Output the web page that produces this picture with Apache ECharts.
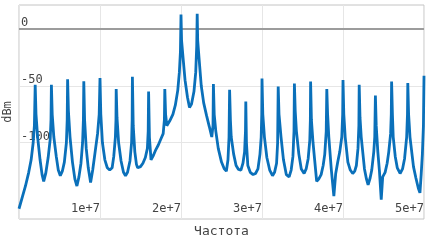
<!DOCTYPE html>
<html>
<head>
<meta charset="utf-8">
<script src="https://cdn.jsdelivr.net/npm/echarts@6/dist/echarts.min.js"></script>
<style>
  html, body { margin: 0; padding: 0; background: #fff; }
  #chart { width: 433px; height: 244px; }
</style>
</head>
<body>
<div id="chart"></div>
<script>
// spectrum: [frequency in MHz, level in dBm]
const spectrumMHz = [
  [0, -158], [0.4, -148], [0.8, -138], [1.2, -126], [1.5, -115], [1.75, -100], [1.9, -85], [2, -49.1],
  [2.1, -75], [2.3, -95], [2.6, -115], [2.85, -128], [3.05, -134], [3.3, -127], [3.6, -113], [3.85, -97], [3.95, -80], [4, -49.1],
  [4.1, -75], [4.3, -95], [4.6, -112], [4.85, -124], [5.1, -129], [5.35, -125], [5.6, -117], [5.85, -100], [5.95, -80], [6, -44.3],
  [6.1, -72], [6.3, -95], [6.6, -117], [6.9, -132], [7.15, -138], [7.4, -130], [7.65, -118], [7.85, -100], [7.95, -80], [8, -46.1],
  [8.1, -80], [8.3, -105], [8.55, -122], [8.84, -135], [9.1, -124], [9.4, -108], [9.7, -92], [9.9, -75], [10, -43.2],
  [10.1, -75], [10.3, -100], [10.6, -115], [10.9, -122], [11.2, -124], [11.5, -122], [11.7, -112], [11.9, -95], [11.97, -80], [12, -52.9],
  [12.1, -78], [12.3, -100], [12.6, -116], [12.9, -126], [13.15, -129], [13.4, -126], [13.7, -116], [13.9, -100], [13.97, -80], [14, -42.1],
  [14.1, -85], [14.3, -108], [14.5, -119], [14.65, -122], [15, -121], [15.3, -118], [15.6, -113], [15.85, -105], [15.95, -90], [16, -55],
  [16.1, -95], [16.3, -115], [16.6, -111], [16.9, -106], [17.2, -102], [17.5, -97], [17.8, -92], [17.95, -80], [18, -52.9],
  [18.1, -75], [18.25, -85], [18.6, -81], [19, -75], [19.3, -67], [19.6, -54], [19.8, -38], [19.93, -20], [20, 12.7],
  [20.07, -10], [20.25, -25], [20.5, -45], [20.8, -60], [21.05, -69], [21.3, -66], [21.6, -55], [21.82, -38], [21.94, -15], [22, 13.2],
  [22.06, -10], [22.22, -25], [22.5, -50], [22.8, -65], [23.15, -76], [23.5, -86], [23.8, -95], [23.95, -85], [24, -48.5],
  [24.1, -75], [24.3, -90], [24.6, -105], [25, -117], [25.35, -123], [25.6, -125], [25.8, -115], [25.93, -95], [26, -53.5],
  [26.1, -80], [26.2, -95], [26.5, -110], [26.8, -120], [27.1, -123.5], [27.4, -124], [27.65, -118], [27.85, -108], [27.96, -90], [28, -63.8],
  [28.08, -100], [28.25, -120], [28.55, -126], [28.9, -128], [29.2, -127], [29.5, -123], [29.75, -110], [29.9, -95], [29.97, -75], [30, -43.6],
  [30.1, -75], [30.3, -95], [30.6, -113], [30.95, -124], [31.3, -129], [31.55, -126], [31.8, -118], [31.93, -100], [32, -50.7],
  [32.1, -75], [32.35, -95], [32.65, -115], [33, -128], [33.35, -130], [33.6, -124], [33.82, -112], [33.95, -90], [34, -48],
  [34.1, -72], [34.25, -90], [34.55, -110], [34.85, -123], [35.2, -127], [35.45, -123], [35.7, -114], [35.9, -98], [35.97, -80], [36, -46.2],
  [36.1, -80], [36.3, -100], [36.5, -115], [36.75, -134], [37, -132], [37.3, -128], [37.55, -120], [37.75, -110], [37.93, -90], [38, -52.8],
  [38.1, -75], [38.25, -95], [38.55, -123], [38.87, -147], [39.1, -127], [39.35, -117], [39.6, -108], [39.85, -95], [39.96, -75], [40, -45],
  [40.1, -75], [40.27, -95], [40.6, -117], [40.9, -124], [41.2, -127], [41.45, -125], [41.65, -120], [41.85, -105], [41.96, -85], [42, -49.1],
  [42.1, -78], [42.25, -95], [42.65, -123], [42.9, -132], [43.1, -137], [43.35, -131], [43.55, -124], [43.8, -108], [43.92, -95], [44, -58.6],
  [44.1, -85], [44.3, -108], [44.5, -125], [44.72, -150], [44.9, -130], [45.2, -126], [45.45, -118], [45.65, -108], [45.88, -92], [45.96, -75], [46, -46.2],
  [46.1, -75], [46.2, -95], [46.45, -112], [46.7, -122], [47.05, -127], [47.35, -123], [47.6, -114], [47.86, -95], [47.96, -75], [48, -47.6],
  [48.1, -75], [48.27, -95], [48.7, -121], [49, -131], [49.3, -140], [49.5, -144], [49.65, -128], [49.8, -110], [49.93, -85], [50, -41.2]
];
const yGridValues = [0, -50, -100];
const xTickStepHz = 1e7;

const monoFont = 'DejaVu Sans Mono';
const textColor = '#444';

const chart = echarts.init(document.getElementById('chart'));

const option = {
  animation: false,
  grid: {
    left: 19,
    right: 9,
    top: 5,
    bottom: 25,
    show: true,
    borderColor: '#c4c4c4',
    borderWidth: 1,
    outerBoundsMode: 'none'
  },
  xAxis: {
    type: 'value',
    min: 0,
    max: 5e7,
    interval: xTickStepHz,
    name: 'Частота',
    nameLocation: 'middle',
    nameGap: 6,
    nameTextStyle: { color: textColor, fontFamily: monoFont, fontSize: 13, verticalAlign: 'top' },
    axisLine: { show: false },
    axisTick: { show: false },
    axisLabel: {
      inside: true,
      align: 'right',
      margin: 4,
      color: textColor,
      fontFamily: monoFont,
      fontSize: 12,
      formatter: (v) => (v === 0 ? '' : v.toExponential())
    },
    splitLine: { show: true, lineStyle: { color: '#e6e6e6', width: 1 } }
  },
  yAxis: {
    type: 'value',
    min: -167,
    max: 21,
    name: 'dBm',
    nameLocation: 'middle',
    nameGap: 5,
    nameTextStyle: { color: textColor, fontFamily: monoFont, fontSize: 12 },
    axisLine: { show: false },
    axisTick: { show: false },
    axisLabel: { show: false },
    splitLine: { show: false }
  },
  series: [
    {
      type: 'line',
      data: spectrumMHz.map(([f, db]) => [f * 1e6, db]),
      showSymbol: false,
      symbol: 'none',
      z: 3,
      lineStyle: { color: '#0a70ba', width: 2.8 },
      markLine: {
        z: 1,
        silent: true,
        symbol: 'none',
        animation: false,
        label: {
          show: true,
          position: 'insideStartTop',
          distance: [2, 0],
          color: textColor,
          fontFamily: monoFont,
          fontSize: 12,
          formatter: (p) => String(p.value)
        },
        data: yGridValues.map((v) => ({
          yAxis: v,
          lineStyle: v === 0
            ? { color: '#9c9c9c', width: 2, type: 'solid' }
            : { color: '#e6e6e6', width: 1, type: 'solid' }
        }))
      }
    }
  ]
};

chart.setOption(option);
</script>
</body>
</html>
